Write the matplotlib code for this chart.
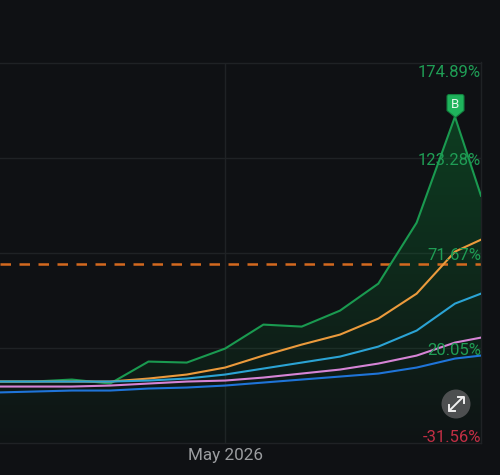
import numpy as np
import matplotlib
matplotlib.use("Agg")
import matplotlib.pyplot as plt
from matplotlib.patches import Circle, Polygon
from matplotlib.path import Path
from matplotlib.colors import LinearSegmentedColormap

BG = "#0f1114"
GRID = "#1f2225"
GREEN = "#1a9a50"
ORANGE = "#eb9a3c"
CYAN = "#2ba3d4"
PINK = "#d684d6"
BLUE = "#1f74d8"

steps = [0, 1, 2, 3, 4, 5, 6, 7, 8, 9, 10, 11, 12, 12.68]
top_series = [1.78, 1.78, 2.87, 0.70, 12.62, 12.08, 19.67, 32.68, 31.60, 40.27, 54.91, 87.98, 145.44, 102.6]
orange_series = [1.78, 1.78, 1.78, 1.78, 3.41, 5.58, 9.37, 15.88, 21.84, 27.26, 35.93, 49.49, 72.26, 78.76]
cyan_series = [1.78, 1.78, 1.78, 1.78, 2.32, 3.41, 5.58, 8.83, 12.08, 15.33, 20.75, 29.43, 44.07, 49.49]
pink_series = [-0.93, -0.93, -0.93, -0.39, 0.70, 1.78, 2.32, 3.95, 6.12, 8.29, 11.54, 15.88, 22.92, 25.63]
blue_series = [-4.18, -3.64, -3.10, -3.10, -2.01, -1.47, -0.39, 1.24, 2.87, 4.49, 6.12, 9.37, 14.25, 15.88]

ref_level = 65.7
y_ticks = [174.89, 123.28, 71.67, 20.05, -31.56]
y_labels = ["174.89%", "123.28%", "71.67%", "20.05%", "-31.56%"]
label_colors = ["#1f9d55", "#1f9d55", "#1f9d55", "#1f9d55", "#c22f45"]
label_offsets = [-10, -3, -3, -3, 6]
month_step = 6
month_label = "May 2026"

plt.rcParams["font.family"] = ["Roboto", "DejaVu Sans"]

fig = plt.figure(figsize=(5, 4.75), dpi=100, facecolor=BG)
ax = fig.add_axes([0, 1 - 443 / 475, 481 / 500, (443 - 62.5) / 475], facecolor=BG)
x_range = (0.125, 12.68)

ax.spines["left"].set_visible(False)
for spine in ["top", "right", "bottom"]:
    ax.spines[spine].set_color(GRID)
    ax.spines[spine].set_linewidth(1)

ax.set_yticks(y_ticks[1:-1])
ax.set_yticklabels([])
ax.set_xticks([month_step])
ax.set_xticklabels([month_label], color="#9b9da0", fontsize=12.3)
ax.tick_params(length=0, pad=3.5)
ax.grid(True, color=GRID, linewidth=1)
ax.set_axisbelow(True)

# gradient fill below the top line, clipped to its outline
fade = LinearSegmentedColormap.from_list("fade", [(0.04, 0.55, 0.22, 0.02), (0.04, 0.55, 0.22, 0.36)])
grad = ax.imshow(np.linspace(1, 0, 256).reshape(-1, 1), cmap=fade, vmin=0, vmax=1, aspect="auto",
                 extent=[x_range[0], x_range[1], y_ticks[-1], max(top_series)], zorder=1.5)
ax.set_xlim(*x_range)
ax.set_ylim(y_ticks[-1], y_ticks[0])
outline = list(zip(steps, top_series)) + [(steps[-1], y_ticks[-1]), (steps[0], y_ticks[-1])]
clip = Polygon(outline, closed=True, transform=ax.transData, facecolor="none", edgecolor="none")
ax.add_patch(clip)
grad.set_clip_path(clip)

ax.axhline(ref_level, color="#d4691f", linewidth=1.8, dashes=(4.2, 3.4), zorder=2)

for values, color in [(top_series, GREEN), (orange_series, ORANGE), (cyan_series, CYAN),
                      (pink_series, PINK), (blue_series, BLUE)]:
    ax.plot(steps, values, color=color, linewidth=1.5, solid_joinstyle="round", zorder=3)

for val, text, color, off in zip(y_ticks, y_labels, label_colors, label_offsets):
    ax.annotate(text, xy=(1, val), xycoords=ax.get_yaxis_transform(), xytext=(0, off * 0.72),
                textcoords="offset points", ha="right", va="center", color=color, fontsize=12, zorder=5)

# buy badge sitting on the peak
peak = int(np.argmax(top_series))
badge = Path(
    [(0, 0), (8.5, 7), (8.5, 21), (8.5, 23), (6.5, 23), (-6.5, 23), (-8.5, 23), (-8.5, 21), (-8.5, 7), (0, 0)],
    [Path.MOVETO, Path.LINETO, Path.LINETO, Path.CURVE3, Path.CURVE3, Path.LINETO, Path.CURVE3, Path.CURVE3,
     Path.LINETO, Path.CLOSEPOLY],
)
ax.plot([steps[peak]], [top_series[peak]], marker=badge, markersize=33, markerfacecolor="#1fb45c",
        markeredgecolor="#12813f", markeredgewidth=0.8, zorder=6, clip_on=False)
ax.annotate("B", xy=(steps[peak], top_series[peak]), xytext=(0, 12 * 0.72), textcoords="offset points",
            ha="center", va="center", color="#e6f7ec", fontsize=9.5, zorder=7)

# expand button, drawn in pixel coordinates on an overlay
overlay = fig.add_axes([0, 0, 1, 1], facecolor="none")
overlay.set_xlim(0, 500)
overlay.set_ylim(475, 0)
overlay.axis("off")
overlay.add_patch(Circle((456, 404), 14.5, facecolor="#4d4f50", edgecolor="none"))
overlay.plot([449, 463], [411, 397], color="#f0f0f0", linewidth=1.4, solid_capstyle="round")
overlay.plot([448.5, 448.5, 454.5], [405, 411, 411], color="#f0f0f0", linewidth=1.4)
overlay.plot([457.5, 463.5, 463.5], [397, 397, 403], color="#f0f0f0", linewidth=1.4)

fig.savefig("out.png", dpi=100, facecolor=BG)
